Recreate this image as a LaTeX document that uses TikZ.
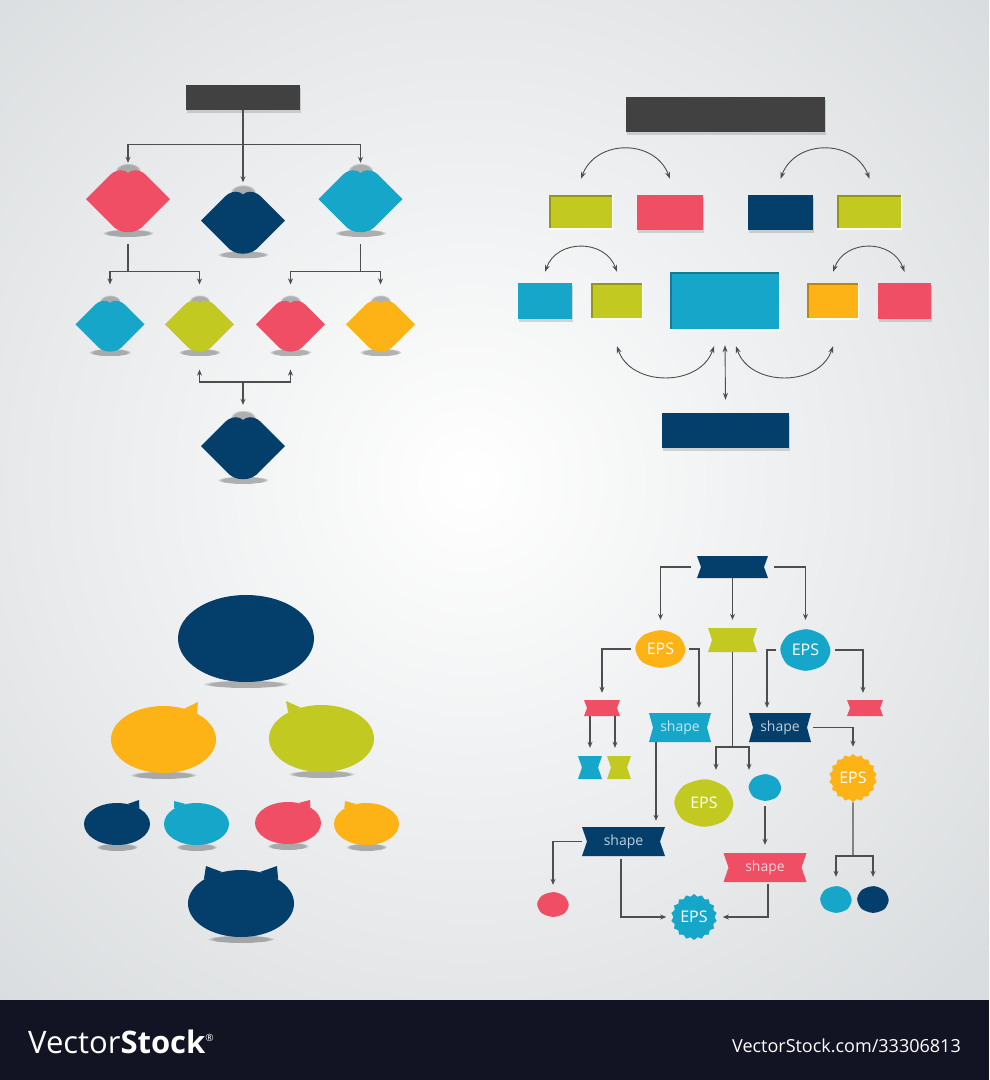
\documentclass[tikz,border=0pt]{standalone}
\usepackage{fontspec}
\setsansfont{Open Sans}
\usepackage{tikz}
\usetikzlibrary{arrows.meta,shapes.geometric,fadings,shadows,calc}

\definecolor{pinkc}{RGB}{240,78,100}
\definecolor{navyc}{RGB}{4,63,107}
\definecolor{cyanc}{RGB}{22,166,201}
\definecolor{limec}{RGB}{194,202,34}
\definecolor{orangec}{RGB}{253,178,21}
\definecolor{darkc}{RGB}{65,65,65}
\definecolor{bgc}{RGB}{218,221,223}
\definecolor{footc}{RGB}{18,20,36}
\definecolor{linec}{RGB}{78,78,78}

\tikzset{
  arr/.style={draw=linec, line width=1.1pt, -{Stealth[length=6pt,width=5pt]}},
  dbl/.style={draw=linec, line width=0.9pt, {Stealth[length=7pt,width=5pt]}-{Stealth[length=7pt,width=5pt]}},
  wire/.style={draw=linec, line width=1.1pt},
  soft/.style={black, opacity=.28, path fading=circle with fuzzy edge 20 percent},
  pinshade/.style={black!70, opacity=.4, path fading=circle with fuzzy edge 20 percent},
  hold/.style 2 args={inner sep=0pt, minimum width=#1*1pt, minimum height=#2*1pt},
  outbox/.style={fill=#1, inner sep=0pt, drop shadow={opacity=.3, shadow xshift=1pt, shadow yshift=-2.5pt}},
  inbox/.style={fill=#1, inner sep=0pt,
    path picture={\draw[black,opacity=.25,line width=3pt] (path picture bounding box.south west)
      -- (path picture bounding box.north west) -- (path picture bounding box.north east);
      \draw[white,line width=2.5pt] (path picture bounding box.south west)
      -- (path picture bounding box.south east) -- (path picture bounding box.north east);}},
  bubble/.style={ellipse, fill=#1, inner sep=0pt},
  seal/.style 2 args={star, star points=18, star point ratio=1.12, fill=#1, minimum size=#2pt, inner sep=0pt},
  epstxt/.style={text=white, font=\sffamily\fontsize{16}{16}\selectfont},
  shptxt/.style={text=white, text opacity=.75, font=\sffamily\fontsize{14}{14}\selectfont}
}

\begin{document}
\begin{tikzpicture}[x=1pt,y=-1pt]
\useasboundingbox (0,0) rectangle (989,1080);
\clip (0,0) rectangle (989,1080);
\fill[bgc] (0,0) rectangle (989,1000);
\shade[inner color=white, outer color=bgc] (470,480) circle (700);
\fill[footc] (0,1000) rectangle (989,1080);

% lip tree
\node[outbox=darkc, minimum width=114pt, minimum height=25pt] (t0) at (243,97.5) {};
\foreach \nm/\x/\y/\c/\s in {d1/128/201/pinkc/1, d2/243/222.5/navyc/1, d3/360.5/201/cyanc/1,
    e1/110/326/cyanc/.82, e2/199.5/326/limec/.82, e3/290.5/326/pinkc/.82, e4/380.5/326/orangec/.82,
    f1/243/448/navyc/1}{
    \fill[soft] (\x,{\y+32*\s}) ellipse ({26*\s} and 4);
    \fill[pinshade] (\x,{\y-30*\s}) ellipse ({13*\s} and {8*\s});
    \fill[\c, shift={(\x,\y)}, scale=\s]
      (-42,-2) -- (-18,-26) .. controls (-14,-30) and (-8,-32) .. (-3,-30) -- (0,-28)
      -- (3,-30) .. controls (8,-32) and (14,-30) .. (18,-26) -- (42,-2) -- (17,23)
      .. controls (9,34) and (-9,34) .. (-17,23) -- cycle;
    \node[hold={84*\s}{62*\s}] (\nm) at (\x,\y) {};
}
\draw[arr, shorten >=9pt] (t0.south) -- (d2.north);
\draw[arr, shorten >=7pt] (t0.south) -- ++(0,34) -| (d1.north);
\draw[arr, shorten >=7pt] (t0.south) -- ++(0,34) -| (d3.north);
\draw[arr, shorten >=16pt] ([yshift=-12pt]d1.south) -- ++(0,27) -| (e1.north);
\draw[arr, shorten >=16pt] ([yshift=-12pt]d1.south) -- ++(0,27) -| (e2.north);
\draw[arr, shorten >=16pt] ([yshift=-12pt]d3.south) -- ++(0,27) -| (e3.north);
\draw[arr, shorten >=16pt] ([yshift=-12pt]d3.south) -- ++(0,27) -| (e4.north);
\coordinate (j1) at (243,382);
\draw[arr] (j1) -| ([yshift=-18pt]e2.south);
\draw[arr] (j1) -| ([yshift=-18pt]e3.south);
\draw[arr, shorten >=12pt] (j1) -- (f1.north);

% boxes
\node[outbox=darkc, minimum width=199pt, minimum height=35pt] (tr0) at (725.5,114.5) {};
\node[inbox=limec, minimum width=64pt, minimum height=34pt] (r1) at (581,212) {};
\node[outbox=pinkc, minimum width=66pt, minimum height=35pt] (r2) at (670,212.5) {};
\node[outbox=navyc, minimum width=65pt, minimum height=35pt] (r3) at (780.5,212.5) {};
\node[inbox=limec, minimum width=65pt, minimum height=34pt] (r4) at (869.5,212) {};
\node[outbox=cyanc, minimum width=54pt, minimum height=36pt] (q1) at (545,301) {};
\node[inbox=limec, minimum width=52pt, minimum height=36pt] (q2) at (617,301) {};
\node[inbox=cyanc, minimum width=110pt, minimum height=58pt] (qc) at (725,301) {};
\node[inbox=orangec, minimum width=52pt, minimum height=36pt] (q3) at (833,301) {};
\node[outbox=pinkc, minimum width=53pt, minimum height=36pt] (q4) at (904.5,301) {};
\node[outbox=navyc, minimum width=127pt, minimum height=35pt] (qb) at (725.5,430.5) {};
\draw[dbl] ([yshift=16pt]r1.north) .. controls +(15,-40) and +(-15,-40) .. ([yshift=16pt]r2.north);
\draw[dbl] ([yshift=16pt]r3.north) .. controls +(15,-40) and +(-15,-40) .. ([yshift=16pt]r4.north);
\draw[dbl] ([yshift=11pt]q1.north) .. controls +(12,-33) and +(-12,-33) .. ([yshift=11pt]q2.north);
\draw[dbl] ([yshift=11pt]q3.north) .. controls +(12,-33) and +(-12,-33) .. ([yshift=11pt]q4.north);
\draw[dbl] ([yshift=-27pt]q2.south) .. controls +(14,41) and +(-14,41) .. ([shift={(-11pt,-16pt)}]qc.south);
\draw[dbl] ([shift={(11pt,-16pt)}]qc.south) .. controls +(14,41) and +(-14,41) .. ([yshift=-27pt]q3.south);
\draw[dbl] ([yshift=-15pt]qc.south) -- ([yshift=13pt]qb.north);

% bubbles
\foreach \nm/\x/\y/\w/\h/\c in {u0/246/638.5/136/87/navyc, u1/163.5/739.5/105/67/orangec,
    u2/321.5/738.5/105/67/limec, v1/117/824/66/42/navyc, v2/196.5/824/65/42/cyanc,
    v3/288/823/66/42/pinkc, v4/366.5/824/65/42/orangec, w0/241/903.5/106/67/navyc}{
    \fill[soft] (\x,{\y+\h/2+2}) ellipse ({\w*0.32} and 4);
    \node[bubble=\c, minimum width=\w*1pt, minimum height=\h*1pt] (\nm) at (\x,\y) {};
}
\fill[orangec] (u1.38) -- ($(u1.center)+(34.5,-37.5)$) -- (u1.56) -- cycle;
\fill[limec] (u2.124) -- ($(u2.center)+(-35.5,-37.5)$) -- (u2.142) -- cycle;
\fill[navyc] (v1.35) -- ($(v1.center)+(22,-24)$) -- (v1.62) -- cycle;
\fill[cyanc] (v2.118) -- ($(v2.center)+(-22.5,-23)$) -- (v2.145) -- cycle;
\fill[pinkc] (v3.35) -- ($(v3.center)+(22,-23)$) -- (v3.62) -- cycle;
\fill[orangec] (v4.118) -- ($(v4.center)+(-21.5,-23)$) -- (v4.145) -- cycle;
\fill[navyc] (w0.121) -- ($(w0.center)+(-35,-37.5)$) -- (w0.147) -- cycle;
\fill[navyc] (w0.33) -- ($(w0.center)+(36,-37.5)$) -- (w0.59) -- cycle;

% flow chart
\foreach \nm/\x/\y/\w/\h/\n/\c/\t in {b0/732.5/567/71/22/4/navyc/{}, l1/732.5/640/49/24/4/limec/{},
    p1/602/708/36/16/3/pinkc/{}, s1/680/727.5/62/29/4/cyanc/shape, s2/780/727.5/62/29/4/navyc/shape,
    p2/865/708/36/16/3/pinkc/{}, h1/590/767.5/24/23/4/cyanc/{}, h2/619/767.5/24/23/4/limec/{},
    s3/623.5/841.5/83/29/5/navyc/shape, s4/765/867.5/83/29/5/pinkc/shape}{
    \fill[\c, shift={(\x,\y)}] ({-\w/2},{-\h/2}) -- ({\w/2},{-\h/2}) -- ({\w/2-\n},0) -- ({\w/2},{\h/2})
      -- ({-\w/2},{\h/2}) -- ({-\w/2+\n},0) -- cycle;
    \node[hold={\w}{\h}, shptxt] (\nm) at (\x,\y) {\t};
}
\foreach \nm/\x/\y/\w/\h/\c/\t in {eps1/660.5/649/51/38/orangec/EPS, eps2/805.5/650/51/42/cyanc/EPS,
    eps3/704/803/60/48/limec/EPS, c1/765/787.5/33/27/cyanc/{}, c2/553/904.5/32/25/pinkc/{},
    c3/836/899.5/32/27/cyanc/{}, c4/873/899.5/32/27/navyc/{}}{
    \fill[\c, shift={(\x,\y)}, xscale=\w/2, yscale=\h/2] plot[smooth cycle] coordinates
      {(0.98,0.05) (0.7,0.72) (0,0.99) (-0.72,0.68) (-0.99,-0.05) (-0.68,-0.72) (0.05,-0.99) (0.72,-0.66)};
    \node[hold={\w}{\h}, epstxt] (\nm) at (\x,\y) {\t};
}
\node[seal={orangec}{48}, epstxt] (k1) at (853,778) {EPS};
\node[seal={cyanc}{46}, epstxt] (k2) at (694,917) {EPS};

\draw[arr, shorten >=10pt] ([xshift=-6pt]b0.west) -| (eps1.north);
\draw[arr, shorten >=8pt] (b0.south) -- (l1.north);
\draw[arr, shorten >=9pt] ([xshift=6pt]b0.east) -| (eps2.north);
\draw[arr, shorten >=7pt] ([xshift=-4pt]eps1.west) -| (p1.north);
\draw[arr, shorten >=5pt] ([xshift=3pt]eps1.east) -| ([xshift=19pt]s1.north);
\draw[arr, shorten >=5pt] ([xshift=-4pt]eps2.west) -| ([xshift=-13pt]s2.north);
\draw[arr, shorten >=7pt] ([xshift=4pt]eps2.east) -| ([xshift=-2pt]p2.north);
\coordinate (j2) at (732.5,747);
\draw[wire] (l1.south) -- (j2);
\draw[arr, shorten >=9pt] (j2) -| ([xshift=12pt]eps3.north);
\draw[arr, shorten >=4pt] (j2) -| ([xshift=-16pt]c1.north);
\draw[arr, shorten >=8pt] ([xshift=-12pt]p1.south) -- (h1.north);
\draw[arr, shorten >=8pt] ([xshift=13pt]p1.south) -- ([xshift=-4pt]h2.north);
\draw[arr, shorten >=7pt] ([xshift=2pt]s2.east) -| (k1.north);
\draw[arr, shorten >=6pt] ([xshift=-24pt]s1.south) -- ([xshift=32.5pt]s3.north);
\draw[arr, shorten >=8pt] ([yshift=-5pt]c1.south) -- (s4.north);
\draw[arr, shorten >=7pt] (s3.west) -| (c2.north);
\draw[arr, shorten >=7pt] ([shift={(-2.5pt,-3pt)}]s3.south) |- (k2.west);
\draw[arr, shorten >=8pt] ([shift={(3pt,-2pt)}]s4.south) |- (k2.east);
\coordinate (j3) at (853,856);
\draw[wire] (k1.south) -- (j3);
\draw[arr, shorten >=9pt] (j3) -| (c3.north);
\draw[arr, shorten >=9pt] (j3) -| (c4.north);

% footer
\node[anchor=west, text=white, inner sep=0pt, font=\sffamily\fontsize{31}{31}\selectfont] (brand) at (28,1042)
  {Vector\textbf{Stock}\raisebox{12pt}{\fontsize{10}{10}\selectfont\textregistered}};
\node[anchor=east, text=white, inner sep=0pt, font=\sffamily\fontsize{18}{18}\selectfont] (url) at (961,1046)
  {VectorStock.com/33306813};
\end{tikzpicture}
\end{document}
